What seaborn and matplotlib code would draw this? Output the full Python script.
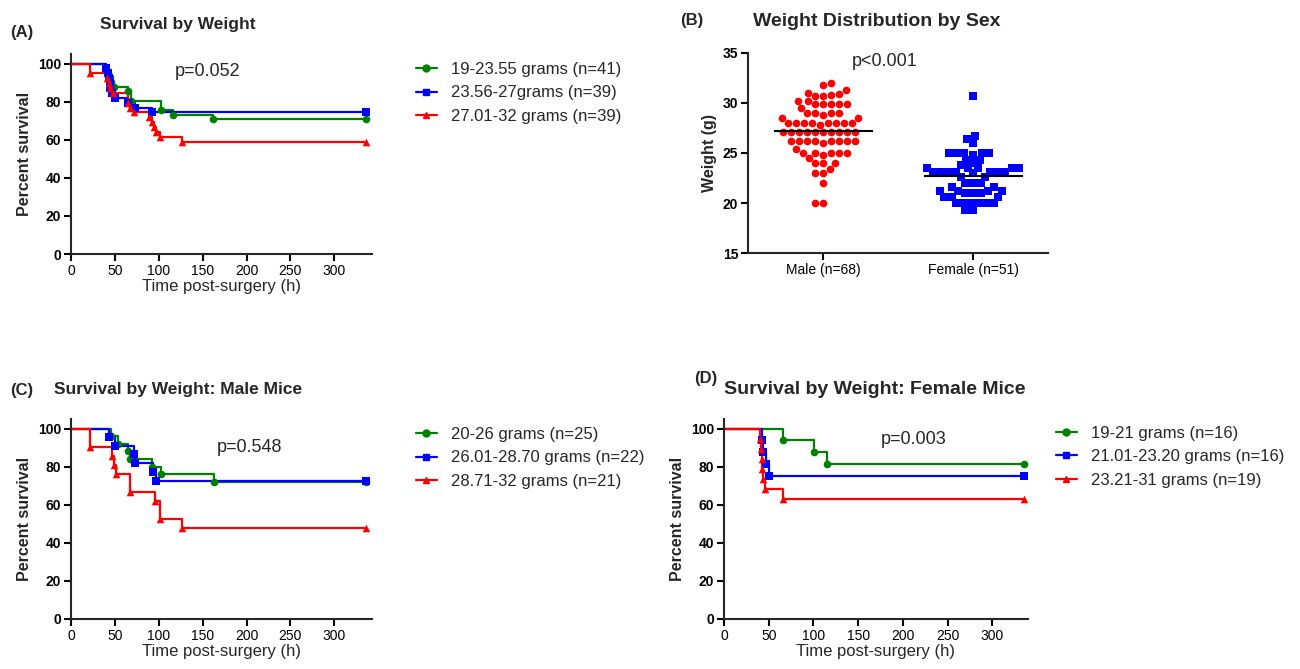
import numpy as np
import pandas as pd
import matplotlib
matplotlib.use('Agg')
import matplotlib.pyplot as plt
import seaborn as sns
from matplotlib.lines import Line2D

# ---- data ----
END_T = 336

# (A) all mice
a_labels = ['19-23.55 grams (n=41)', '23.56-27grams (n=39)', '27.01-32 grams (n=39)']
a_green_t = [40, 42, 44, 46, 49, 65, 68, 103, 116, 162]
a_green_s = [97.6, 95.1, 92.7, 90.2, 87.8, 85.4, 80.5, 75.6, 73.2, 70.7]
a_blue_t = [40, 42, 43, 44, 45, 47, 50, 65, 73, 92]
a_blue_s = [97.4, 94.9, 92.3, 89.7, 87.2, 84.6, 82.1, 79.5, 76.9, 74.4]
a_red_t = [22, 41, 43, 45, 48, 65, 67, 72, 89, 92, 95, 97, 101, 127]
a_red_s = [94.9, 92.3, 89.7, 87.2, 84.6, 79.5, 76.9, 74.4, 71.8, 69.2, 66.7, 64.1, 61.5, 59.0]

# (C) male mice
c_labels = ['20-26 grams (n=25)', '26.01-28.70 grams (n=22)', '28.71-32 grams (n=21)']
c_green_t = [46, 53, 65, 67, 92, 103, 163]
c_green_s = [96, 92, 88, 84, 80, 76, 72]
c_blue_t = [43, 50, 72, 73, 93, 97]
c_blue_s = [95.5, 90.9, 86.4, 81.8, 77.3, 72.7]
c_red_t = [22, 47, 49, 51, 67, 96, 101, 127]
c_red_s = [90.5, 85.7, 81.0, 76.2, 66.7, 61.9, 52.4, 47.6]

# (D) female mice
d_labels = ['19-21 grams (n=16)', '21.01-23.20 grams (n=16)', '23.21-31 grams (n=19)']
d_green_t = [66, 101, 115]
d_green_s = [93.75, 87.5, 81.25]
d_blue_t = [42, 44, 47, 50]
d_blue_s = [93.75, 87.5, 81.25, 75.0]
d_red_t = [40, 41, 42, 43, 44, 46, 66]
d_red_s = [94.7, 89.5, 84.2, 78.9, 73.7, 68.4, 63.2]

# (B) weights
sex_names = ['Male (n=68)', 'Female (n=51)']
male_w = [32.0, 31.8, 31.3, 31.0, 30.9, 30.8, 30.7, 30.7, 30.2, 30.2,
          29.9, 29.9, 29.9, 29.9, 29.9, 29.5, 29.0, 29.0, 29.0, 29.0, 28.8,
          28.5, 28.5, 28.0, 28.0, 28.0, 28.0, 28.0, 28.0, 28.0, 28.0, 27.8,
          27.1, 27.1, 27.1, 27.1, 27.1, 27.1, 27.1, 27.1, 27.1, 27.1,
          26.2, 26.2, 26.2, 26.2, 26.2, 26.2, 26.2, 26.2, 26.0,
          25.4, 25.0, 25.0, 25.0, 25.0, 25.0, 24.8, 24.5, 24.0, 24.0, 24.0,
          23.4, 23.0, 23.0, 22.0, 20.0, 20.0]
female_w = [30.7, 26.7, 26.4, 26.0, 25.0, 25.0, 25.0, 25.0, 25.0, 24.8,
            24.3, 24.3, 24.0, 23.8, 23.5, 23.5, 23.5, 23.5, 23.5,
            23.1, 23.1, 23.1, 23.1, 23.1, 23.1, 23.1, 23.0, 22.6, 22.6,
            22.0, 22.0, 22.0, 21.6, 21.6, 21.2, 21.2, 21.2, 21.2,
            21.0, 21.0, 21.0, 20.6, 20.6, 20.6,
            20.0, 20.0, 20.0, 20.0, 20.0, 20.0, 19.3, 19.3]

colors = ['#008000', '#0000ff', '#ff0000']
markers = ['o', 's', '^']

sns.set_theme(style='ticks')
plt.rcParams['font.family'] = ['Liberation Sans', 'DejaVu Sans']
plt.rcParams['axes.linewidth'] = 1.5

W, H = 1300, 669
fig = plt.figure(figsize=(13, 6.69), dpi=100)


def box(left, top, right, bottom):
    return [left / W, 1 - bottom / H, (right - left) / W, (bottom - top) / H]


def style_axis(ax):
    sns.despine(ax=ax)
    ax.tick_params(axis='both', direction='out', length=5, width=1.5, colors='black',
                   labelsize=10, pad=2)
    for lab in ax.get_yticklabels():
        lab.set_fontweight('bold')
    ax.set_facecolor('white')


def km_panel(ax, curves, labels, xmax):
    for (t, s), c, m, lab in zip(curves, colors, markers, labels):
        tt = [0] + list(t) + [END_T]
        ss = [100] + list(s) + [s[-1]]
        df = pd.DataFrame({'t': tt, 's': ss})
        sns.lineplot(data=df, x='t', y='s', drawstyle='steps-post', color=c, lw=1.6,
                     estimator=None, ax=ax)
        pts = pd.DataFrame({'t': list(t) + [END_T], 's': list(s) + [s[-1]]})
        sns.scatterplot(data=pts, x='t', y='s', color=c, marker=m, s=30,
                        edgecolor=c, linewidth=0, ax=ax, zorder=3)
    ax.set_xlim(0, xmax)
    ax.set_ylim(0, 105)
    ax.set_xticks(range(0, 301, 50))
    ax.set_yticks(range(0, 101, 20))
    ax.set_xlabel('Time post-surgery (h)', fontsize=12, labelpad=1)
    ax.set_ylabel('Percent survival', fontsize=11.5, fontweight='bold', labelpad=4)
    style_axis(ax)


def km_legend(labels, x, y):
    handles = [Line2D([], [], color=c, marker=m, lw=1.6, markersize=5)
               for c, m in zip(colors, markers)]
    fig.legend(handles, labels, loc='upper left', bbox_to_anchor=(x / W, 1 - y / H),
               frameon=False, fontsize=12, handlelength=1.25, handletextpad=0.85,
               labelspacing=0.5, borderaxespad=0, borderpad=0)


axA = fig.add_axes(box(71, 54, 372, 254))
km_panel(axA, [(a_green_t, a_green_s), (a_blue_t, a_blue_s), (a_red_t, a_red_s)],
         a_labels, 343)
km_legend(a_labels, 416, 62)

axC = fig.add_axes(box(71, 419, 372, 619))
km_panel(axC, [(c_green_t, c_green_s), (c_blue_t, c_blue_s), (c_red_t, c_red_s)],
         c_labels, 343)
km_legend(c_labels, 416, 427)

axD = fig.add_axes(box(724, 419, 1028, 619))
km_panel(axD, [(d_green_t, d_green_s), (d_blue_t, d_blue_s), (d_red_t, d_red_s)],
         d_labels, 340)
km_legend(d_labels, 1056, 426)

# (B) weight by sex
axB = fig.add_axes(box(748, 53, 1048, 253))
wdf = pd.DataFrame({'sex': [sex_names[0]] * len(male_w) + [sex_names[1]] * len(female_w),
                    'w': male_w + female_w})
sns.swarmplot(data=wdf[wdf.sex == sex_names[0]], x='sex', y='w', order=sex_names,
              color='#ff0000', marker='o', size=5.5, linewidth=0, ax=axB)
sns.swarmplot(data=wdf[wdf.sex == sex_names[1]], x='sex', y='w', order=sex_names,
              color='#0000ff', marker='s', size=5.2, linewidth=0, ax=axB)
for i, name in enumerate(sex_names):
    m = wdf.loc[wdf.sex == name, 'w'].mean()
    axB.hlines(m, i - 0.33, i + 0.33, color='black', lw=1.5, zorder=4)
axB.set_xlim(-0.5, 1.5)
axB.set_ylim(15, 35)
axB.set_yticks(range(15, 36, 5))
axB.set_xlabel('')
axB.set_ylabel('Weight (g)', fontsize=11.5, fontweight='bold', labelpad=4)
style_axis(axB)

# titles, panel tags and p values
fig.text(178 / W, 1 - 25 / H, 'Survival by Weight', ha='center', va='center',
         fontsize=12.5, fontweight='bold')
fig.text(877 / W, 1 - 22 / H, 'Weight Distribution by Sex', ha='center', va='center',
         fontsize=14, fontweight='bold')
fig.text(178 / W, 1 - 389 / H, 'Survival by Weight: Male Mice', ha='center',
         va='center', fontsize=12.5, fontweight='bold')
fig.text(875 / W, 1 - 389 / H, 'Survival by Weight: Female Mice', ha='center',
         va='center', fontsize=14, fontweight='bold')
for tag, x, y in [('(A)', 10, 33), ('(B)', 680, 21), ('(C)', 10, 390), ('(D)', 694, 378)]:
    fig.text(x / W, 1 - y / H, tag, ha='left', va='center', fontsize=12, fontweight='bold')
for txt, x, y in [('p=0.052', 208, 71), ('p<0.001', 885, 62), ('p=0.548', 250, 447),
                  ('p=0.003', 914, 440)]:
    fig.text(x / W, 1 - y / H, txt, ha='center', va='center', fontsize=13)

fig.savefig('out.png', dpi=100, facecolor='white')
